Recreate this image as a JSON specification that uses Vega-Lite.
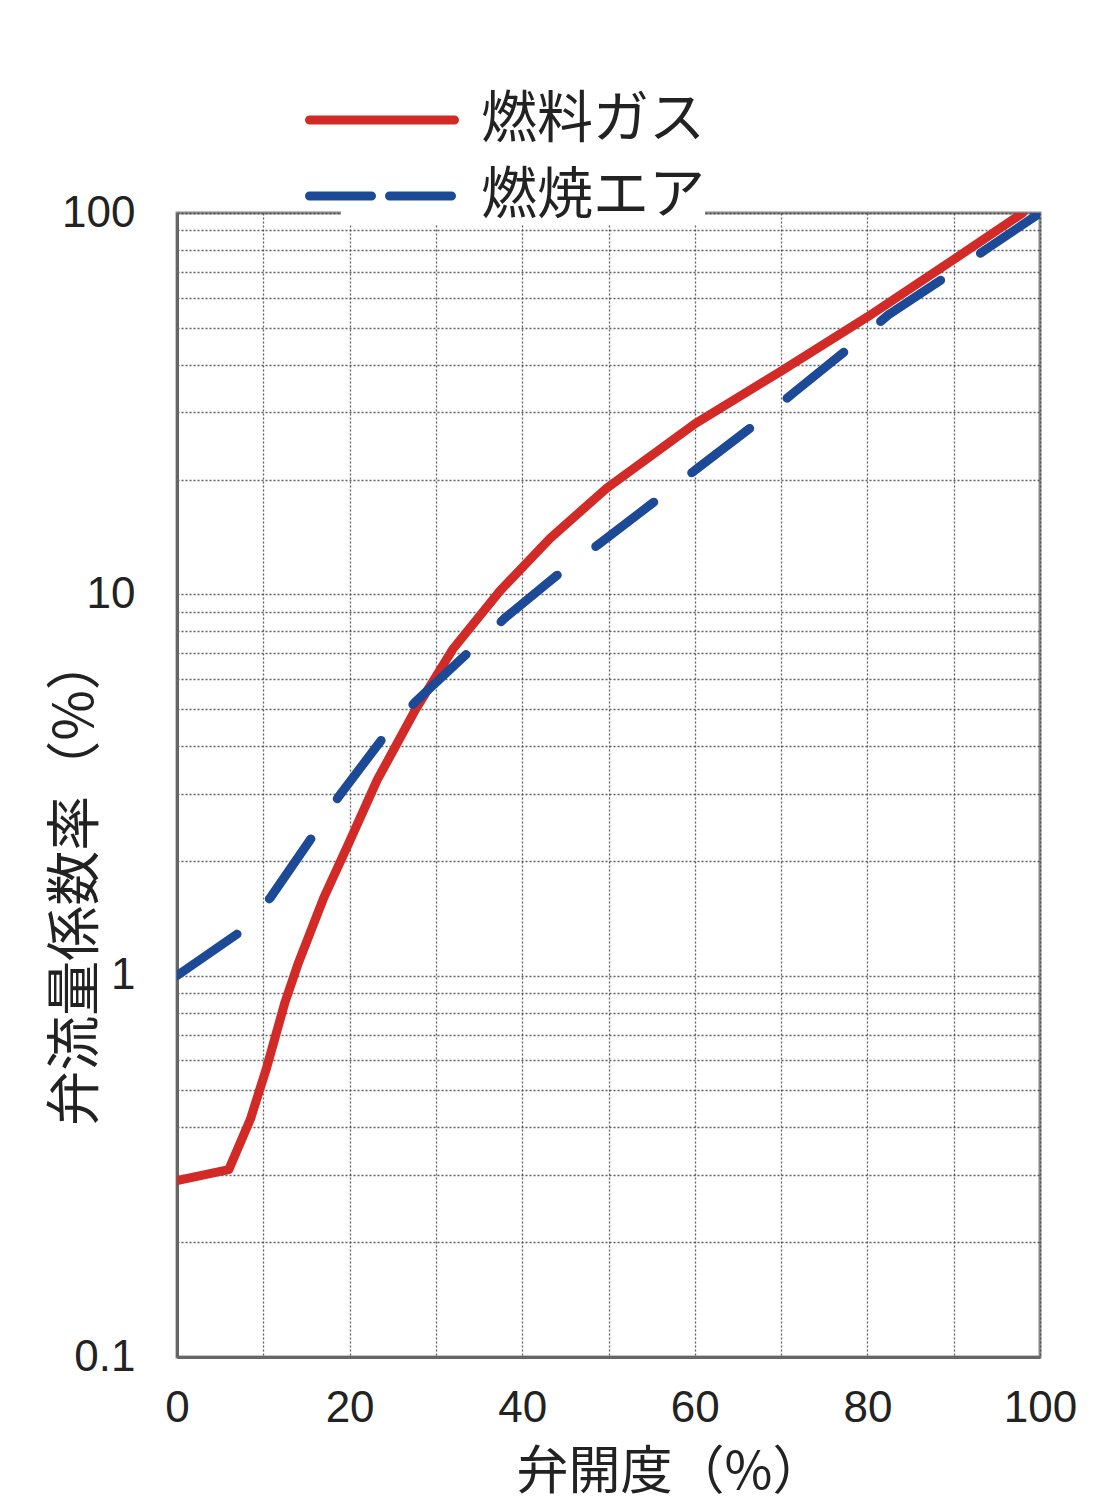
{
  "$schema": "https://vega.github.io/schema/vega-lite/v6.json",
  "width": 863,
  "height": 1144,
  "autosize": {"type": "none"},
  "padding": {"left": 177, "top": 213, "right": 80, "bottom": 151},
  "background": "white",
  "config": {
    "view": {"stroke": "#8c8c8c", "strokeWidth": 3},
    "axis": {
      "labelFont": "Liberation Sans",
      "labelFontSize": 44,
      "labelColor": "#222",
      "titleFont": "Noto Sans CJK JP",
      "titleFontSize": 52,
      "titleFontWeight": "normal",
      "titleColor": "#222",
      "ticks": false,
      "domainColor": "#666",
      "domainWidth": 3,
      "gridColor": "#444",
      "gridOpacity": 0.85,
      "gridWidth": 1.3,
      "gridDash": [2, 2],
      "labelOverlap": false,
      "labelFlush": false
    }
  },
  "data": {
    "values": [
      {"series": "燃料ガス", "opening": 0, "cv": 0.29},
      {"series": "燃料ガス", "opening": 6, "cv": 0.31},
      {"series": "燃料ガス", "opening": 8.5, "cv": 0.42},
      {"series": "燃料ガス", "opening": 10.4, "cv": 0.575},
      {"series": "燃料ガス", "opening": 12.5, "cv": 0.85},
      {"series": "燃料ガス", "opening": 14, "cv": 1.07},
      {"series": "燃料ガス", "opening": 17, "cv": 1.6},
      {"series": "燃料ガス", "opening": 20, "cv": 2.25},
      {"series": "燃料ガス", "opening": 23.2, "cv": 3.26},
      {"series": "燃料ガス", "opening": 27.6, "cv": 4.97},
      {"series": "燃料ガス", "opening": 32, "cv": 7.2},
      {"series": "燃料ガス", "opening": 37.4, "cv": 10.2},
      {"series": "燃料ガス", "opening": 43.2, "cv": 14.0},
      {"series": "燃料ガス", "opening": 49.8, "cv": 19.0},
      {"series": "燃料ガス", "opening": 60, "cv": 28.0},
      {"series": "燃料ガス", "opening": 70, "cv": 38.5},
      {"series": "燃料ガス", "opening": 80, "cv": 53.4},
      {"series": "燃料ガス", "opening": 90, "cv": 75.5},
      {"series": "燃料ガス", "opening": 98, "cv": 100},
      {"series": "燃焼エア", "opening": 0, "cv": 1.0},
      {"series": "燃焼エア", "opening": 7.7, "cv": 1.32},
      {"series": "燃焼エア", "opening": 10.8, "cv": 1.6},
      {"series": "燃焼エア", "opening": 16, "cv": 2.37},
      {"series": "燃焼エア", "opening": 18.7, "cv": 2.94},
      {"series": "燃焼エア", "opening": 24.3, "cv": 4.33},
      {"series": "燃焼エア", "opening": 27.6, "cv": 5.22},
      {"series": "燃焼エア", "opening": 34.3, "cv": 7.23},
      {"series": "燃焼エア", "opening": 38, "cv": 8.67},
      {"series": "燃焼エア", "opening": 44, "cv": 11.2},
      {"series": "燃焼エア", "opening": 49, "cv": 13.6},
      {"series": "燃焼エア", "opening": 56.3, "cv": 18.2},
      {"series": "燃焼エア", "opening": 60.3, "cv": 21.4},
      {"series": "燃焼エア", "opening": 67.6, "cv": 28.6},
      {"series": "燃焼エア", "opening": 71.4, "cv": 33.7},
      {"series": "燃焼エア", "opening": 78.6, "cv": 45.6},
      {"series": "燃焼エア", "opening": 82.4, "cv": 54},
      {"series": "燃焼エア", "opening": 89.9, "cv": 70},
      {"series": "燃焼エア", "opening": 94, "cv": 81},
      {"series": "燃焼エア", "opening": 100, "cv": 100}
    ]
  },
  "encoding": {
    "x": {
      "field": "opening",
      "type": "quantitative",
      "scale": {"domain": [0, 100], "nice": false},
      "axis": {
        "values": [0, 10, 20, 30, 40, 50, 60, 70, 80, 90, 100],
        "labelExpr": "datum.value % 20 == 0 ? datum.label : ''",
        "labelPadding": 29,
        "title": "弁開度（%）",
        "titleX": 493,
        "titleY": 115,
        "titleBaseline": "middle",
        "titleAnchor": "middle",
        "titleAlign": "center"
      }
    },
    "y": {
      "field": "cv",
      "type": "quantitative",
      "scale": {"type": "log", "domain": [0.1, 100], "nice": false},
      "axis": {
        "values": [0.1, 0.2, 0.3, 0.4, 0.5, 0.6, 0.7, 0.8, 0.9, 1, 2, 3, 4, 5, 6, 7, 8, 9, 10, 20, 30, 40, 50, 60, 70, 80, 90, 100],
        "format": "~g",
        "labelExpr": "datum.value == 0.1 || datum.value == 1 || datum.value == 10 || datum.value == 100 ? datum.label : ''",
        "labelPadding": 42,
        "title": "弁流量係数率（%）",
        "titleX": -102,
        "titleY": 667,
        "titleFontSize": 55,
        "titleAngle": -90,
        "titleBaseline": "middle",
        "titleAlign": "center"
      }
    },
    "color": {
      "field": "series",
      "type": "nominal",
      "scale": {"domain": ["燃料ガス", "燃焼エア"], "range": ["#d22a26", "#1c4a97"]},
      "legend": {
        "title": null,
        "orient": "none",
        "legendX": 164,
        "legendY": -134,
        "direction": "vertical",
        "padding": 0,
        "fillColor": "white",
        "symbolType": "M-2,0H2",
        "symbolSize": 5256,
        "symbolStrokeWidth": 9,
        "labelFont": "Noto Sans CJK JP",
        "labelFontSize": 56,
        "labelColor": "#222",
        "labelLimit": 0,
        "labelOffset": 58,
        "rowPadding": 7,
        "encode": {
          "symbols": {
            "update": {
              "strokeCap": {"value": "round"},
              "strokeDash": {"signal": "datum.value === '燃焼エア' ? [62, 18] : [1, 0]"}
            }
          }
        }
      }
    }
  },
  "layer": [
    {
      "transform": [{"filter": "datum.series === '燃料ガス'"}],
      "mark": {"type": "line", "strokeWidth": 9, "strokeCap": "round", "strokeJoin": "round", "clip": true}
    },
    {
      "transform": [{"filter": "datum.series === '燃焼エア'"}],
      "mark": {"type": "line", "strokeWidth": 9, "strokeCap": "round", "strokeJoin": "round", "strokeDash": [73, 48], "clip": true}
    }
  ]
}
